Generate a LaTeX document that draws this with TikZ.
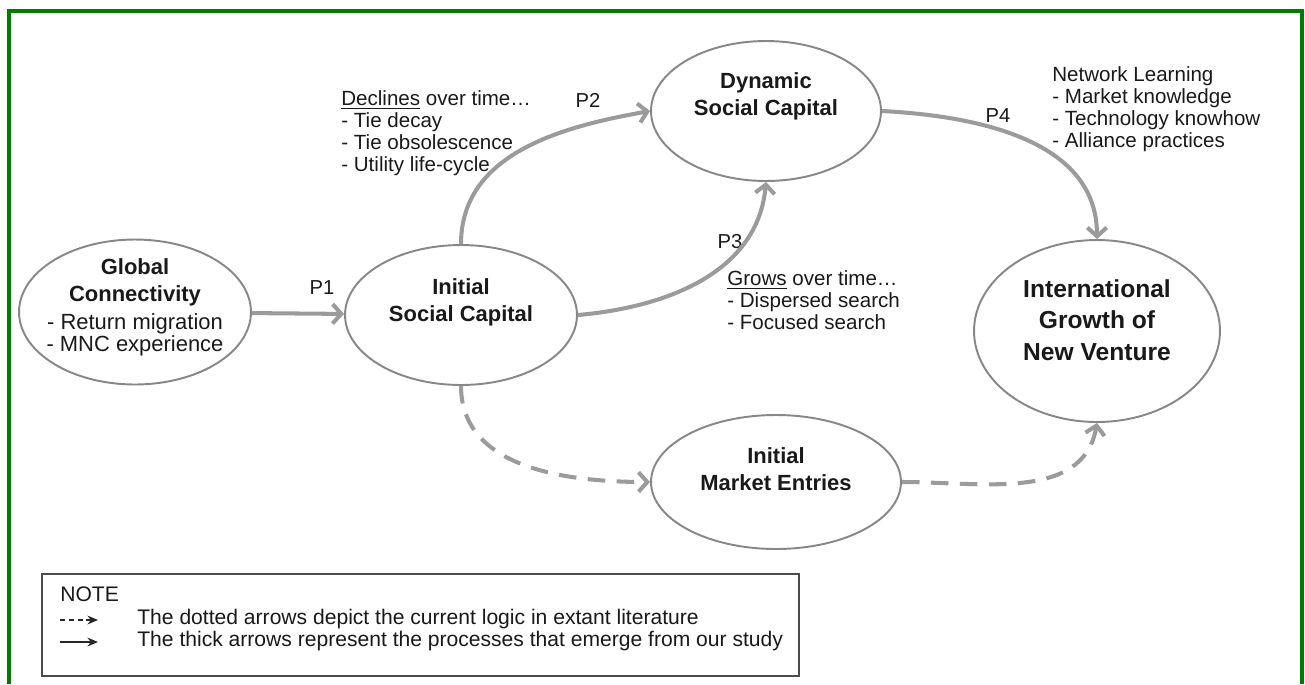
\documentclass[tikz,border=0pt]{standalone}
\usepackage{fontspec}
\setmainfont{Liberation Sans}
\usetikzlibrary{shapes.geometric,arrows.meta}
\definecolor{framegreen}{RGB}{0,125,0}
\definecolor{flowgray}{RGB}{155,155,155}
\definecolor{rimgray}{RGB}{135,135,135}
\tikzset{
  concept/.style={ellipse, draw=rimgray, line width=1.1pt, inner sep=0pt},
  title/.style={align=center, inner sep=0pt, text=black!90, font=\bfseries\fontsize{12.5}{15.5}\selectfont},
  sub/.style={align=left, inner sep=0pt, text=black!90, font=\fontsize{11.7}{12.6}\selectfont},
  plabel/.style={inner sep=0pt, text=black!90, font=\fontsize{11.5}{12.5}\selectfont},
  flow/.style={draw=flowgray, line width=2.3pt, -{Straight Barb[length=5pt,width=11pt]}},
  logic/.style={flow, dash pattern=on 10pt off 6.5pt},
}
\begin{document}
\begin{tikzpicture}[x=0.02cm,y=-0.02cm]
    \useasboundingbox (0,0) rectangle (1305,684);
    \draw [framegreen, line width=2pt] (9,684) -- (9,11) -- (1302,11) -- (1302,684);
    \node [concept, minimum width=4.64cm, minimum height=2.9cm] (glob) at (135,312) {};
    \node [concept, minimum width=4.64cm, minimum height=2.8cm] (init) at (461,315) {};
    \node [concept, minimum width=4.6cm, minimum height=2.8cm] (dyn) at (766,111) {};
    \node [concept, minimum width=4.92cm, minimum height=3.64cm] (intl) at (1097,331) {};
    \node [concept, minimum width=5cm, minimum height=2.68cm] (mkt) at (776,482) {};
    \node [title] (glob-t) at (135,282) {Global\\Connectivity};
    \node [sub, align=center, font=\fontsize{12.5}{12.8}\selectfont] (glob-s) at (135,335) {- Return migration\\- MNC experience};
    \node [title] (init-t) at (461,302) {Initial\\Social Capital};
    \node [title] (dyn-t) at (766,96) {Dynamic\\Social Capital};
    \node [title, font=\bfseries\fontsize{14}{17.8}\selectfont] (intl-t) at (1097,320) {International\\Growth of\\New Venture};
    \node [title] (mkt-t) at (776,469) {Initial\\Market Entries};
    \node [sub, anchor=north west] (declines) at (341,90) {\underline{Declines} over time…\\- Tie decay\\- Tie obsolescence\\- Utility life-cycle};
    \node [sub, anchor=north west] (grows) at (727,270) {\underline{Grows} over time…\\- Dispersed search\\- Focused search};
    \node [sub, anchor=north west] (learning) at (1052,66) {Network Learning\\- Market knowledge\\- Technology knowhow\\- Alliance practices};
    \node [plabel] (p1) at (322,288) {P1};
    \node [plabel] (p2) at (588,100) {P2};
    \node [plabel] (p3) at (730,242) {P3};
    \node [plabel] (p4) at (998,116) {P4};
    \draw [flow] (glob) -- (init);
    \draw [flow] (init.north) to [out=90, in=190] (dyn.west);
    \draw [flow] (init.east) to [out=5, in=-95] (dyn.south);
    \draw [flow] (dyn.east) to [out=-3, in=90] (intl.north);
    \draw [logic] (init.south) to [out=-90, in=180] (mkt.west);
    \draw [logic] (mkt.east) to [out=0, in=-100] (intl.south);
    \node [draw=black!70, line width=0.8pt, minimum width=15.14cm, minimum height=2.04cm, inner sep=0pt] (note) at (420.5,625) {};
    \node [plabel, anchor=west, font=\fontsize{12}{13}\selectfont] (note-t) at (60,594) {NOTE};
    \coordinate (dash-a) at (60,620);
    \coordinate (dash-b) at (98,620);
    \coordinate (solid-a) at (60,642);
    \coordinate (solid-b) at (98,642);
    \draw [black!85, line width=0.9pt, dash pattern=on 3pt off 2pt, -{Stealth[length=6pt,width=5pt]}] (dash-a) -- (dash-b);
    \draw [black!85, line width=0.9pt, -{Stealth[length=6pt,width=5pt]}] (solid-a) -- (solid-b);
    \node [plabel, anchor=west, font=\fontsize{12}{13}\selectfont] (dotted-t) at (137,619) {The dotted arrows depict the current logic in extant literature};
    \node [plabel, anchor=west, font=\fontsize{12}{13}\selectfont] (thick-t) at (137,641) {The thick arrows represent the processes that emerge from our study};
\end{tikzpicture}
\end{document}
